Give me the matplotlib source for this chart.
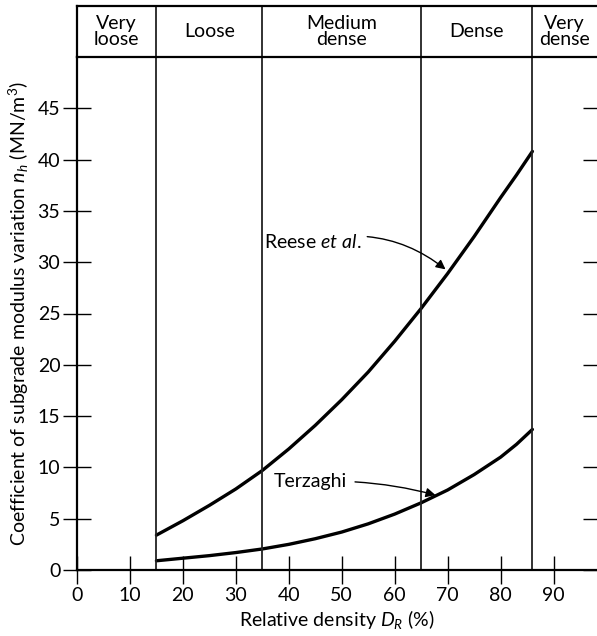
import matplotlib
matplotlib.use('Agg')
import numpy as np
from matplotlib import pyplot as plt

plt.rcParams['font.family'] = ['Lato', 'DejaVu Sans']
plt.rcParams['mathtext.fontset'] = 'custom'
plt.rcParams['mathtext.rm'] = 'Lato'
plt.rcParams['mathtext.it'] = 'Lato:italic'

# density classes (boundaries in % relative density)
bounds = [15, 35, 65, 86]
classes = ['Very\nloose', 'Loose', 'Medium\ndense', 'Dense', 'Very\ndense']
class_x = [7.5, 25, 50, 75.5, 92]

# Reese et al.
dr_reese = [15, 20, 25, 30, 35, 40, 45, 50, 55, 60, 65, 70, 75, 80, 83, 86]
nh_reese = [3.4, 4.8, 6.3, 7.9, 9.7, 11.8, 14.1, 16.6, 19.3, 22.3, 25.5, 28.9, 32.5, 36.3, 38.5, 40.8]
# Terzaghi
dr_terz = [15, 20, 25, 30, 35, 40, 45, 50, 55, 60, 65, 70, 75, 80, 83, 86]
nh_terz = [0.9, 1.15, 1.4, 1.7, 2.05, 2.5, 3.05, 3.7, 4.5, 5.45, 6.55, 7.8, 9.3, 11.0, 12.25, 13.7]

xticks = [0, 10, 20, 30, 40, 50, 60, 70, 80, 90]
yticks = [0, 5, 10, 15, 20, 25, 30, 35, 40, 45]
xmax = 98.2

fig = plt.figure(figsize=(5.97, 6.36), dpi=100)
L, R = 77/597, 1.0
ax = fig.add_axes([L, 1-570/636, R-L, (570-57)/636])
hd = fig.add_axes([L, 1-57/636, R-L, (57-6)/636])

ax.plot(dr_reese, nh_reese, color='black', lw=2.4, solid_capstyle='round', solid_joinstyle='round')
ax.plot(dr_terz, nh_terz, color='black', lw=2.4, solid_capstyle='round', solid_joinstyle='round')
for b in bounds:
    ax.axvline(b, color='#222222', lw=1.3)
    hd.axvline(b, color='#222222', lw=1.3)

ax.set_xlim(0, xmax)
ax.set_ylim(0, 50)
ax.set_xticks(xticks)
ax.set_yticks(yticks)
ax.tick_params(direction='inout', length=20, width=1.0, labelsize=14, pad=2)
for s in ['right', 'top']:
    ax.spines[s].set_visible(False)
for s in ['left', 'bottom']:
    ax.spines[s].set_linewidth(1.6)

tw = ax.twinx()
tw.set_ylim(0, 50)
tw.set_yticks(yticks)
tw.tick_params(direction='in', length=10, width=1.0, labelright=False)
for s in tw.spines.values():
    s.set_visible(False)

ax.set_xlabel('Relative density $D_R$ (%)', fontsize=14, labelpad=3)
ax.set_ylabel('Coefficient of subgrade modulus variation $n_h$ (MN/m$^3$)',
              fontsize=14, labelpad=5)

ax.annotate('Reese $et\\ al$.', xy=(69.6, 29.3), xytext=(35.3, 32.0),
            fontsize=14, ha='left', va='center',
            arrowprops=dict(arrowstyle='-|>', color='black', lw=1.0,
                            connectionstyle='arc3,rad=-0.25', shrinkA=2, shrinkB=0))
ax.annotate('Terzaghi', xy=(67.7, 7.3), xytext=(37.1, 8.6),
            fontsize=14, ha='left', va='center',
            arrowprops=dict(arrowstyle='-|>', color='black', lw=1.0,
                            connectionstyle='arc3,rad=-0.08', shrinkA=4, shrinkB=0))

hd.set_xlim(0, xmax)
hd.set_ylim(0, 1)
hd.set_xticks([])
hd.set_yticks([])
hd.spines['right'].set_visible(False)
for s in ['left', 'top', 'bottom']:
    hd.spines[s].set_linewidth(1.6)
for cx, c in zip(class_x, classes):
    hd.text(cx, 0.5, c, ha='center', va='center', fontsize=14, linespacing=0.95)

fig.savefig('out.png', dpi=100)
